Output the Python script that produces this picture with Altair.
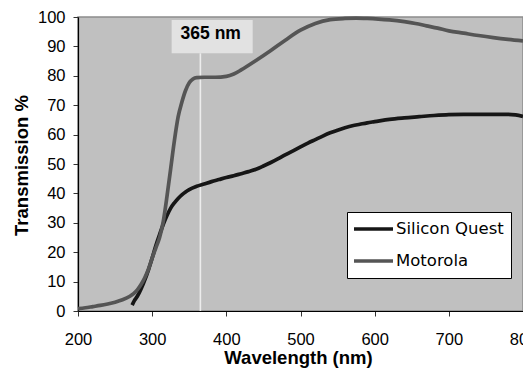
import altair as alt
import pandas as pd

# ---- data ----
series_names = ["Silicon Quest", "Motorola"]
series_colors = ["#161616", "#555555"]

mot_nm = [200, 210, 220, 230, 240, 250, 260, 270, 275, 280, 285, 290, 295, 300, 305, 310,
          315, 320, 325, 330, 335, 340, 345, 350, 355, 360, 370, 385, 400, 410, 420, 440,
          460, 480, 500, 520, 540, 560, 575, 590, 605, 620, 640, 655, 670, 685, 700, 720,
          740, 760, 780, 800]
mot_t = [0.8, 1.1, 1.5, 1.9, 2.4, 3.0, 3.8, 5.0, 5.9, 7.2, 9.0, 11.3, 14.2, 18.0, 21.5, 25.0,
         30.5, 39.0, 48.5, 58.0, 66.0, 71.0, 75.0, 77.6, 78.9, 79.4, 79.5, 79.5, 79.8, 80.6, 82.0, 85.2,
         88.6, 92.2, 95.5, 97.8, 99.1, 99.5, 99.6, 99.5, 99.3, 99.0, 98.4, 97.8, 97.0, 96.2, 95.3, 94.5,
         93.7, 93.0, 92.4, 91.9]

sq_nm = [273, 276, 280, 285, 290, 295, 300, 305, 310, 315, 320, 325, 330, 335, 340, 345,
         350, 360, 370, 380, 390, 400, 410, 420, 430, 440, 450, 460, 470, 480, 490, 500,
         510, 520, 530, 540, 550, 560, 570, 580, 590, 600, 620, 640, 660, 680, 700, 720,
         740, 760, 780, 790, 800]
sq_t = [2.0, 3.5, 5.0, 7.5, 10.5, 14.0, 18.0, 22.3, 26.0, 29.5, 32.5, 35.0, 36.8, 38.3, 39.5, 40.5,
        41.3, 42.4, 43.2, 44.0, 44.7, 45.4, 46.0, 46.7, 47.4, 48.2, 49.3, 50.5, 51.8, 53.2, 54.5, 55.8,
        57.1, 58.3, 59.5, 60.6, 61.5, 62.3, 63.0, 63.5, 64.0, 64.4, 65.2, 65.7, 66.1, 66.5, 66.8, 66.9,
        66.9, 66.9, 66.9, 66.7, 66.2]

x_ticks = [200, 300, 400, 500, 600, 700, 800]
y_ticks = [0, 10, 20, 30, 40, 50, 60, 70, 80, 90, 100]

marker_nm = [365]
marker_from = [0]
marker_to = [87.65]
marker_label = ["365 nm"]
label_nm = [379]
label_t = [94.1]
box_nm = [326.3]
box_nm2 = [435.5]
box_t = [87.65]
box_t2 = [99.0]

FONT = "Liberation Sans"
LEGEND_FONT = "DejaVu Sans"

df = pd.concat([
    pd.DataFrame({"nm": sq_nm, "t": sq_t, "series": series_names[0]}),
    pd.DataFrame({"nm": mot_nm, "t": mot_t, "series": series_names[1]}),
], ignore_index=True)

x_scale = alt.Scale(domain=[200, 800], nice=False, zero=False)
y_scale = alt.Scale(domain=[0, 100], nice=False, zero=False)

x_axis = alt.Axis(values=x_ticks, tickCount=len(x_ticks), title="Wavelength (nm)", labelPadding=28,
                  labelBaseline="alphabetic", labelFlush=False, labelOverlap=False,
                  titleX=220, titleY=52, titleBaseline="alphabetic")
y_axis = alt.Axis(values=y_ticks, tickCount=len(y_ticks), title="Transmission %", labelPadding=8,
                  labelFlush=False, labelOverlap=False,
                  titleX=-57, titleY=148, titleBaseline="middle", titleAngle=270)


def xq(field="nm"):
    return alt.X(f"{field}:Q", scale=x_scale, axis=x_axis, title="Wavelength (nm)")


def yq(field="t"):
    return alt.Y(f"{field}:Q", scale=y_scale, axis=y_axis, title="Transmission %")


rule = alt.Chart(pd.DataFrame({"nm": marker_nm, "t": marker_from, "t2": marker_to})).mark_rule(
    color="#ededed", strokeWidth=1.6
).encode(x=xq(), y=yq(), y2="t2:Q")

box = alt.Chart(pd.DataFrame({"nm": box_nm, "nm2": box_nm2, "t": box_t, "t2": box_t2})).mark_rect(
    color="#e2e2e2"
).encode(x=xq(), x2="nm2:Q", y=yq(), y2="t2:Q")

label = alt.Chart(pd.DataFrame({"nm": label_nm, "t": label_t, "txt": marker_label})).mark_text(
    font=FONT, fontSize=17.5, fontWeight="bold", color="#000000", align="center", baseline="middle"
).encode(x=xq(), y=yq(), text="txt:N")

lines = alt.Chart(df).mark_line(strokeWidth=3.7, interpolate="monotone", strokeJoin="round").encode(
    x=xq(),
    y=yq(),
    color=alt.Color("series:N",
                    scale=alt.Scale(domain=series_names, range=series_colors),
                    legend=alt.Legend(title=None, orient="none", legendX=269, legendY=195,
                                      fillColor="#ffffff", strokeColor="#000000", padding=7,
                                      symbolType="stroke", symbolStrokeWidth=3.5, symbolSize=1681,
                                      symbolOffset=-4, clipHeight=20, rowPadding=12,
                                      labelFontSize=16.5, labelFont=LEGEND_FONT,
                                      labelColor="#000000", labelOffset=1)),
)

chart = alt.layer(rule, box, label, lines).properties(
    width=445, height=294,
    autosize=alt.AutoSizeParams(type="none"),
    padding={"left": 70, "top": 9, "right": 0, "bottom": 57},
    background="#ffffff",
).configure_view(
    fill="#c0c0c0", stroke="#8c8c8c", strokeWidth=1.5
).configure_axis(
    grid=False, domainColor="#000000", domainWidth=1.2, tickColor="#333333", tickSize=5,
    tickWidth=1, labelFont=FONT, labelFontSize=16.5, labelColor="#000000",
    labelOverlap=False, labelFlush=False,
    titleFont=FONT, titleFontSize=18.5, titleFontWeight="bold", titleColor="#000000",
)

chart.save("out.html", embed_options={"renderer": "svg", "actions": False})
